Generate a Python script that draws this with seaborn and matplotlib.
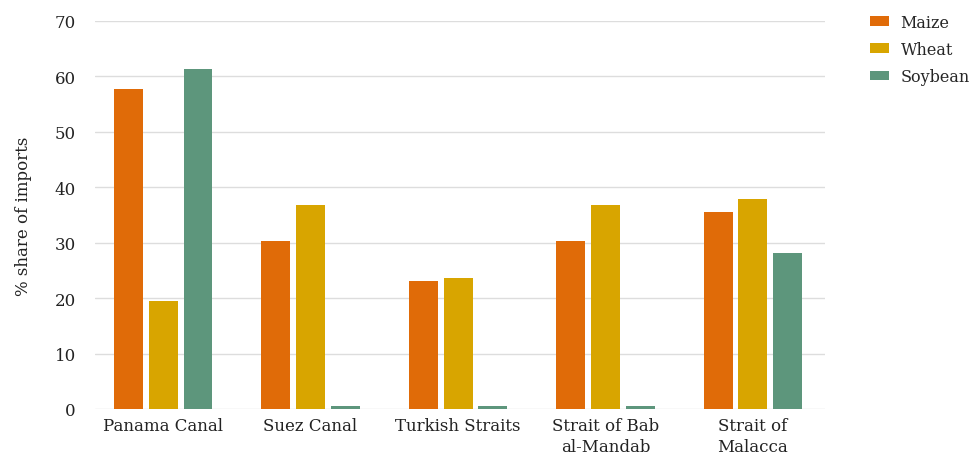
import pandas as pd
import numpy as np
import matplotlib.pyplot as plt
import seaborn as sns

# Dados
routes = ["Panama Canal", "Suez Canal", "Turkish Straits",
          "Strait of Bab\nal-Mandab", "Strait of\nMalacca"]
crops = ["Maize", "Wheat", "Soybean"]
maize = [57.8, 30.3, 23.0, 30.3, 35.5]
wheat = [19.4, 36.7, 23.7, 36.7, 37.8]
soybean = [61.4, 0.6, 0.6, 0.6, 28.2]
colors = ["#E06B08", "#D8A500", "#5D967C"]

df = pd.DataFrame({"route": routes * 3,
                   "crop": np.repeat(crops, len(routes)),
                   "share": maize + wheat + soybean})

sns.set_style("white")
plt.rcParams['font.family'] = ['DejaVu Serif']

fig = plt.figure(figsize=(9.72, 4.56), dpi=100)
ax = fig.add_axes([0.098, 0.101, 0.751, 0.851])

sns.barplot(data=df, x="route", y="share", hue="crop", palette=colors,
            width=0.71, gap=0.17, saturation=1, linewidth=0, ax=ax, zorder=3)

ax.set_ylim(0, 70)
ax.set_xlim(-0.46, 4.49)
ax.set_yticks(range(0, 71, 10))
ax.yaxis.grid(True, color="#DDDDDD", linewidth=1, zorder=0)
ax.set_axisbelow(True)
sns.despine(ax=ax, left=True, bottom=True)
ax.tick_params(axis="both", length=0, labelsize=12, colors="#222222")
ax.tick_params(axis="x", pad=6)
ax.tick_params(axis="y", pad=14)
for lbl in ax.get_xticklabels():
    lbl.set_linespacing(1.3)
ax.set_xlabel("")
ax.set_ylabel("% share of imports", fontsize=12, color="#222222", labelpad=16)

ax.legend(loc="upper left", bbox_to_anchor=(1.042, 1.056), frameon=False,
          fontsize=11.5, handlelength=1.2, handleheight=0.55, labelspacing=0.65,
          handletextpad=0.7)

fig.savefig("out.png", dpi=100)
